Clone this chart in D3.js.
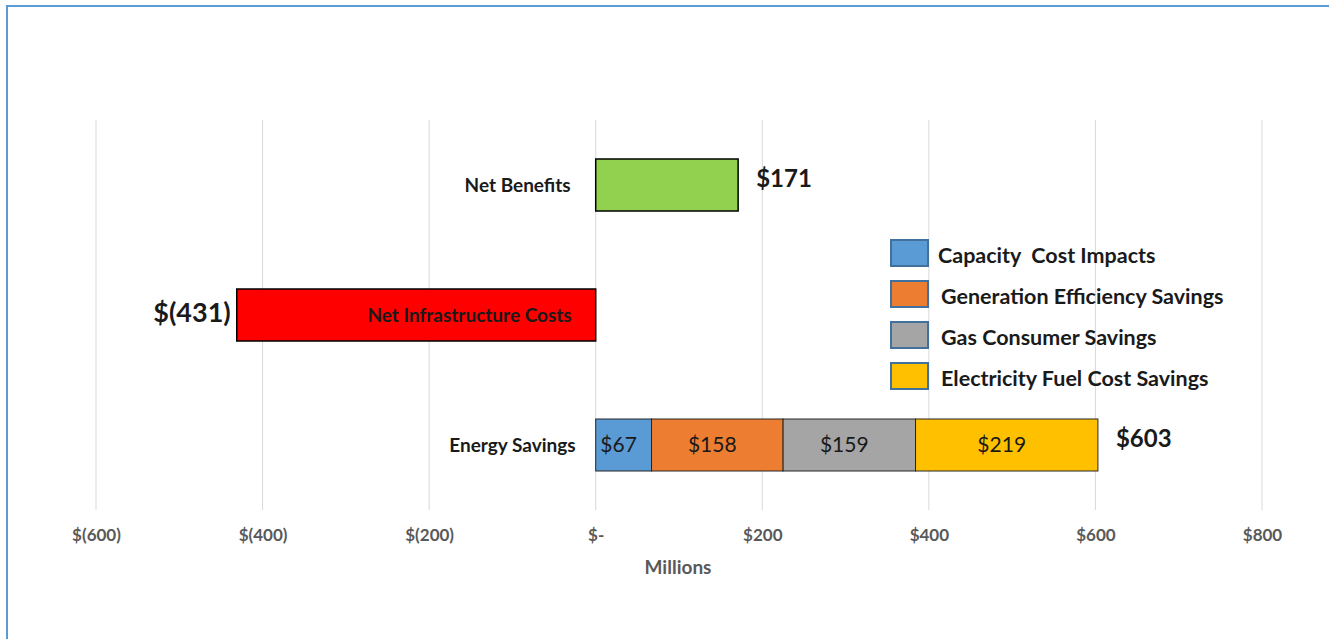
<!DOCTYPE html>
<html>
<head>
<meta charset="utf-8">
<script src="https://cdn.jsdelivr.net/npm/d3@7"></script>
<style>
  html, body { margin: 0; padding: 0; background: #fff; }
  svg { display: block; font-family: Lato, "Open Sans", sans-serif; }
</style>
</head>
<body>
<svg id="chart" width="1329" height="639"></svg>
<script>
// Rows of the chart, top to bottom
const categories = ["Net Benefits", "Net Infrastructure Costs", "Energy Savings"];

// Single-value rows ($ millions)
const netBenefits = 171;
const netInfrastructure = -431;

// Energy savings components ($ millions), stacked left to right
const savingsSeries = ["Capacity  Cost Impacts", "Generation Efficiency Savings", "Gas Consumer Savings", "Electricity Fuel Cost Savings"];
const savingsValues = [67, 158, 159, 219];
const savingsTotal = 603;

// Axis ticks
const tickValues = [-600, -400, -200, 0, 200, 400, 600, 800];

const seriesColors = ["#5b9bd5", "#ed7d31", "#a5a5a5", "#ffc000"];

const svg = d3.select("#chart");

// Frame around the figure
svg.append("path")
  .attr("d", "M7,639 L7,6 L1329,6")
  .attr("fill", "none")
  .attr("stroke", "#5b9bd5")
  .attr("stroke-width", 2);

const x = d3.scaleLinear().domain([-600, 800]).range([96, 1262]);
const y = d3.scaleBand().domain(categories).range([120, 510]).paddingInner(0.6).paddingOuter(0.3);

const fmt = v => v === 0 ? "$-" : (v < 0 ? `$(${Math.abs(v)})` : `$${v}`);

// Vertical gridlines
svg.append("g")
  .selectAll("line")
  .data(tickValues)
  .join("line")
  .attr("x1", d => x(d)).attr("x2", d => x(d))
  .attr("y1", 120).attr("y2", 510)
  .attr("stroke", "#d9d9d9")
  .attr("stroke-width", 1);

// Bottom axis labels
const axis = d3.axisBottom(x).tickValues(tickValues).tickFormat(fmt).tickSize(0).tickPadding(0);
const axisG = svg.append("g").attr("transform", "translate(0,529)").call(axis);
axisG.select(".domain").remove();
axisG.selectAll("text")
  .attr("font-family", "Lato, sans-serif")
  .attr("font-size", 17)
  .attr("font-weight", "bold")
  .attr("fill", "#595959");

svg.append("text")
  .attr("x", 678).attr("y", 574)
  .attr("text-anchor", "middle")
  .attr("font-size", 19)
  .attr("font-weight", "bold")
  .attr("fill", "#595959")
  .text("Millions");

const bh = y.bandwidth();

// Net Benefits bar
svg.append("rect")
  .attr("x", x(0)).attr("y", y(categories[0]))
  .attr("width", x(netBenefits) - x(0)).attr("height", bh)
  .attr("fill", "#92d050").attr("stroke", "#000").attr("stroke-width", 1.5);

// Net Infrastructure Costs bar
svg.append("rect")
  .attr("x", x(netInfrastructure)).attr("y", y(categories[1]))
  .attr("width", x(0) - x(netInfrastructure)).attr("height", bh)
  .attr("fill", "#ff0000").attr("stroke", "#000").attr("stroke-width", 1.5);

// Energy Savings stacked bar
const stacked = savingsValues.map((v, i) => {
  const start = d3.sum(savingsValues.slice(0, i));
  return { name: savingsSeries[i], value: v, x0: start, x1: start + v, color: seriesColors[i] };
});

const segG = svg.append("g");
segG.selectAll("rect")
  .data(stacked)
  .join("rect")
  .attr("x", d => x(d.x0)).attr("y", y(categories[2]))
  .attr("width", d => x(d.x1) - x(d.x0)).attr("height", bh)
  .attr("fill", d => d.color)
  .attr("stroke", "#262626").attr("stroke-width", 1);

segG.selectAll("text")
  .data(stacked)
  .join("text")
  .attr("x", d => (x(d.x0) + x(d.x1)) / 2 - 5)
  .attr("y", y(categories[2]) + bh / 2)
  .attr("dy", "0.35em")
  .attr("text-anchor", "middle")
  .attr("font-size", 21)
  .attr("fill", "#1a1a1a")
  .text(d => fmt(d.value));

// Category labels
const catLabel = (name, xPos, yPos) => svg.append("text")
  .attr("x", xPos).attr("y", yPos)
  .attr("dy", "0.35em")
  .attr("text-anchor", "end")
  .attr("font-size", 19)
  .attr("font-weight", "bold")
  .attr("fill", "#1a1a1a")
  .text(name);

catLabel(categories[0], x(0) - 25, y(categories[0]) + bh / 2);
catLabel(categories[1], x(0) - 24, y(categories[1]) + bh / 2);
catLabel(categories[2], x(0) - 20, y(categories[2]) + bh / 2);

// Totals
svg.append("text")
  .attr("x", x(netBenefits) + 18).attr("y", y(categories[0]) + bh / 2 - 6)
  .attr("dy", "0.35em")
  .attr("font-size", 24).attr("font-weight", "bold").attr("fill", "#1a1a1a")
  .text(fmt(netBenefits));

svg.append("text")
  .attr("x", x(netInfrastructure) - 6).attr("y", y(categories[1]) + bh / 2 - 2)
  .attr("dy", "0.35em")
  .attr("text-anchor", "end")
  .attr("font-size", 27).attr("font-weight", "bold").attr("fill", "#1a1a1a")
  .text(fmt(netInfrastructure));

svg.append("text")
  .attr("x", x(savingsTotal) + 18).attr("y", y(categories[2]) + bh / 2 - 6)
  .attr("dy", "0.35em")
  .attr("font-size", 24).attr("font-weight", "bold").attr("fill", "#1a1a1a")
  .text(fmt(savingsTotal));

// Legend
const legend = svg.append("g").attr("transform", "translate(890,239)");
const items = legend.selectAll("g")
  .data(savingsSeries)
  .join("g")
  .attr("transform", (d, i) => `translate(0,${i * 41})`);

items.append("rect")
  .attr("x", 1).attr("y", 1)
  .attr("width", 37).attr("height", 26)
  .attr("fill", (d, i) => seriesColors[i])
  .attr("stroke", "#41719c").attr("stroke-width", 2);

items.append("text")
  .attr("x", (d, i) => i === 0 ? 48 : 51)
  .attr("y", 16)
  .attr("dy", "0.35em")
  .attr("font-size", 21.5)
  .attr("font-weight", "bold")
  .attr("fill", "#1a1a1a")
  .attr("xml:space", "preserve")
  .style("white-space", "pre")
  .text(d => d);
</script>
</body>
</html>
